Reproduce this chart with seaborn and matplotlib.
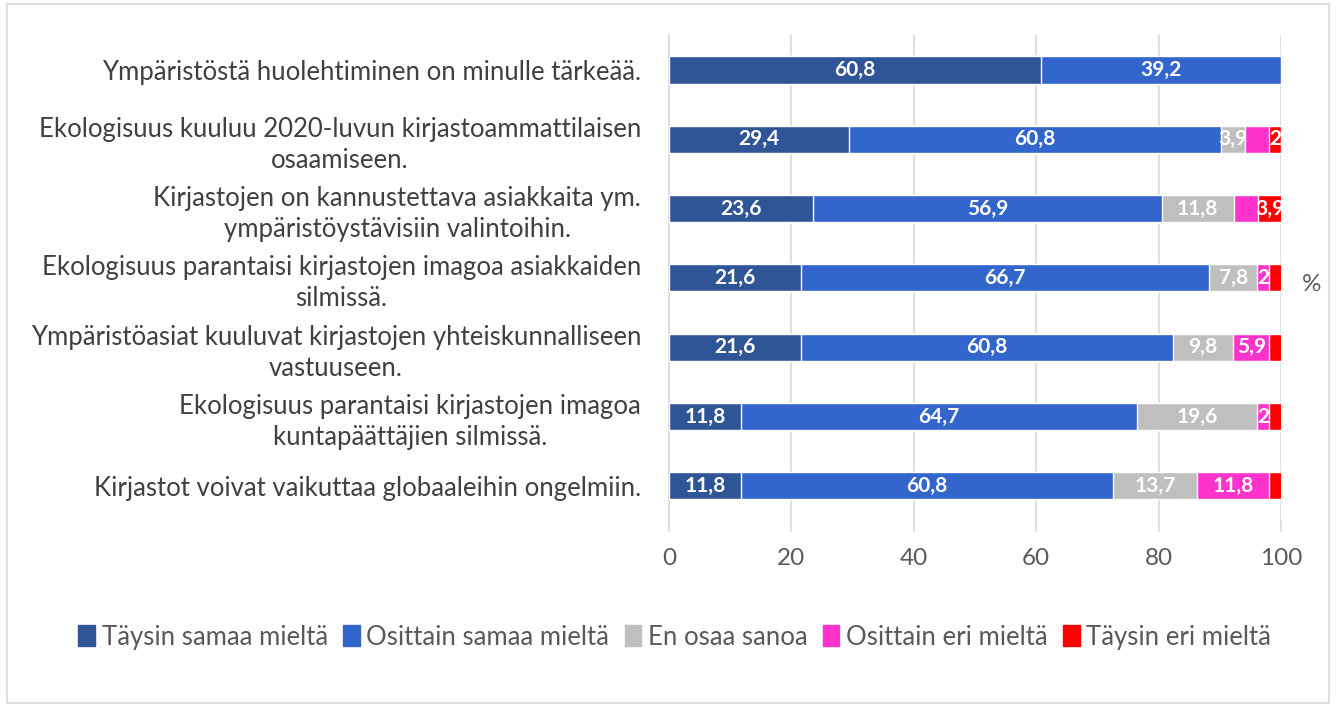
import numpy as np
import pandas as pd
import matplotlib
matplotlib.use("Agg")
import matplotlib.pyplot as plt
import matplotlib.patches as mpatches
import seaborn as sns

# data (%)
questions = [
    "Ympäristöstä huolehtiminen on minulle tärkeää.",
    "Ekologisuus kuuluu 2020-luvun kirjastoammattilaisen\nosaamiseen.",
    "Kirjastojen on kannustettava asiakkaita ym.\nympäristöystävisiin valintoihin.",
    "Ekologisuus parantaisi kirjastojen imagoa asiakkaiden\nsilmissä.",
    "Ympäristöasiat kuuluvat kirjastojen yhteiskunnalliseen\nvastuuseen.",
    "Ekologisuus parantaisi kirjastojen imagoa\nkuntapäättäjien silmissä.",
    "Kirjastot voivat vaikuttaa globaaleihin ongelmiin.",
]
responses = ["Täysin samaa mieltä", "Osittain samaa mieltä", "En osaa sanoa",
             "Osittain eri mieltä", "Täysin eri mieltä"]
taysin_samaa = [60.8, 29.4, 23.6, 21.6, 21.6, 11.8, 11.8]
osittain_samaa = [39.2, 60.8, 56.9, 66.7, 60.8, 64.7, 60.8]
en_osaa = [0, 3.9, 11.8, 7.8, 9.8, 19.6, 13.7]
osittain_eri = [0, 3.9, 3.9, 2.0, 5.9, 2.0, 11.8]
taysin_eri = [0, 2.0, 3.9, 2.0, 2.0, 2.0, 2.0]
# which segments carry a value label in the original
show_label = [
    [True, True, True, True, True, True, True],
    [True, True, True, True, True, True, True],
    [False, True, True, True, True, True, True],
    [False, False, False, True, True, True, True],
    [False, True, True, False, False, False, False],
]
colors = ["#2F5597", "#3366CC", "#BFBFBF", "#FF33CC", "#FF0000"]

series = [taysin_samaa, osittain_samaa, en_osaa, osittain_eri, taysin_eri]
df = pd.DataFrame({"question": questions})
for name, vals in zip(responses, series):
    df[name] = vals
cum = df[responses].cumsum(axis=1)

sns.set_theme(style="white")
plt.rcParams["font.family"] = ["Lato", "DejaVu Sans"]

fig = plt.figure(figsize=(13.36, 7.07), dpi=100)
ax = fig.add_axes([0.5007, 0.2637, 0.4581, 0.6863])

# stacked bars: draw cumulative totals from the right-most series back
for i in range(len(responses) - 1, -1, -1):
    sns.barplot(x=cum[responses[i]], y=df["question"], color=colors[i],
                width=0.39, saturation=1, ax=ax, orient="h", zorder=3)

for i, name in enumerate(responses):
    for j in range(len(questions)):
        v = df[name][j]
        if v <= 0 or not show_label[i][j]:
            continue
        centre = cum[name][j] - v / 2
        txt = f"{v:g}".replace(".", ",")
        ax.text(centre, j, txt, ha="center", va="center", color="white",
                fontsize=15, fontweight="bold", zorder=5)

ax.set_xlim(0, 100)
ax.set_ylim(6.5, -0.5)
ax.set_xticks(np.arange(0, 101, 20))
ax.set_xlabel("")
ax.set_ylabel("")
ax.grid(axis="x", color="#D9D9D9", linewidth=1.2, zorder=0)
for s in ["top", "right", "bottom"]:
    ax.spines[s].set_visible(False)
ax.spines["left"].set_color("#D9D9D9")
ax.spines["left"].set_linewidth(1.2)
ax.tick_params(axis="x", length=8, color="#D9D9D9", width=1.2, pad=12,
               labelsize=17.5, labelcolor="#595959", bottom=True)
ax.tick_params(axis="y", length=0, pad=20, labelsize=18.5, labelcolor="#404040")
for lab in ax.get_yticklabels():
    lab.set_multialignment("center")
    lab.set_linespacing(1.3)

fig.text(0.982, 0.597, "%", ha="center", va="center", fontsize=17.5,
         color="#595959")

handles = [mpatches.Patch(color=c, label=n) for c, n in zip(colors, responses)]
fig.legend(handles=handles, loc="center", bbox_to_anchor=(0.505, 0.099),
           ncol=5, frameon=False, fontsize=18.5, handlelength=0.65,
           handleheight=0.9, handletextpad=0.25, columnspacing=0.6,
           labelcolor="#595959")

fig.patches.append(mpatches.Rectangle((0.005, 0.006), 0.99, 0.988,
                                      transform=fig.transFigure, fill=False,
                                      edgecolor="#D9D9D9", linewidth=1.2))

fig.savefig("out.png", dpi=100)
